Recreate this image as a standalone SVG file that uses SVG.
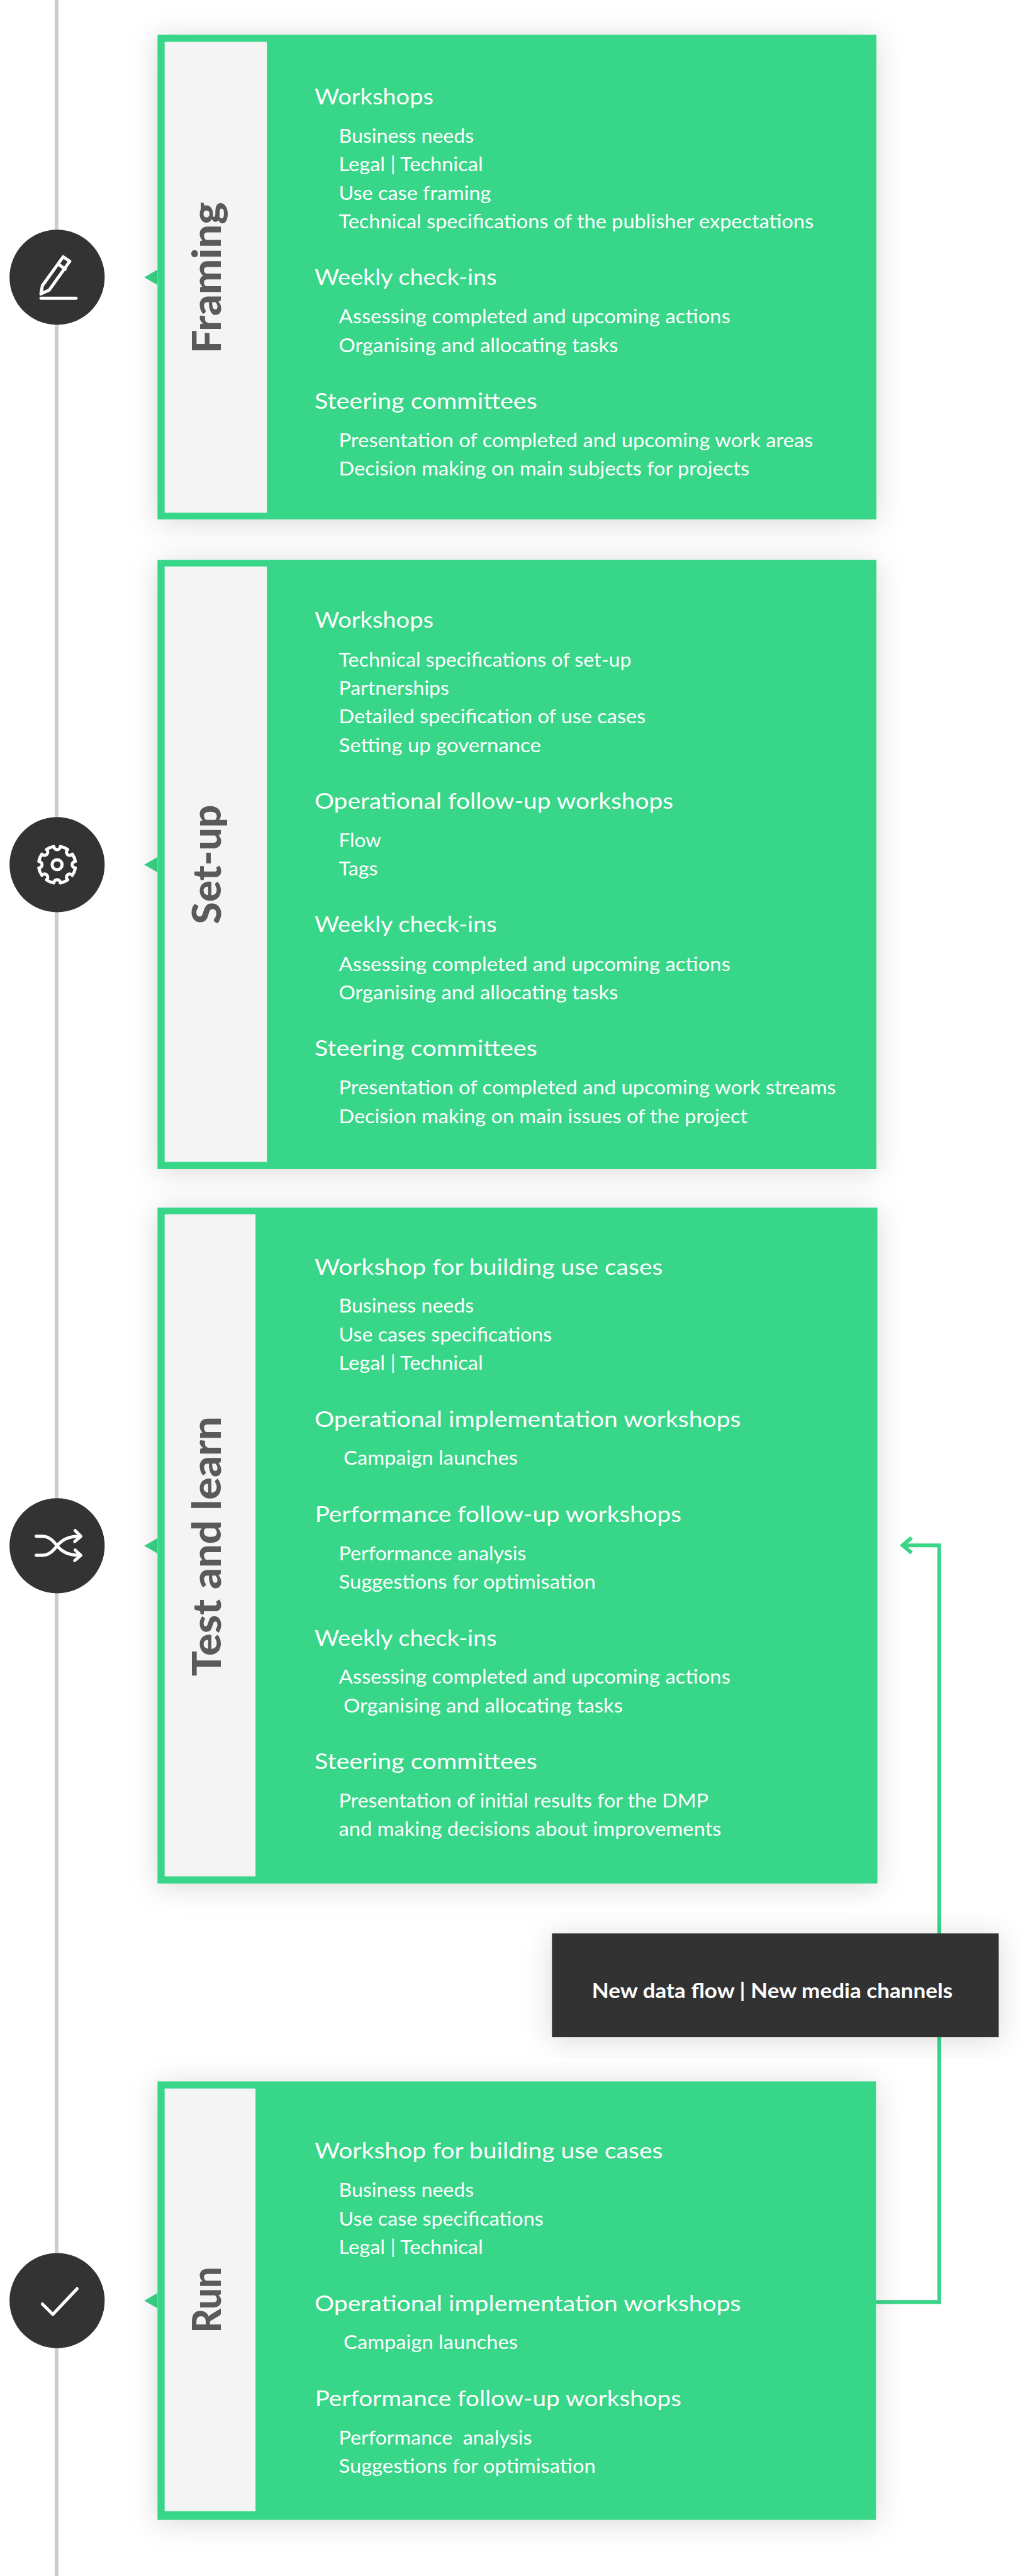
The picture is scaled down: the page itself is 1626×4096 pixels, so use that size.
<svg xmlns="http://www.w3.org/2000/svg" width="1626" height="4096" viewBox="0 0 1626 4096">
<style>
text{font-family:"Lato","Noto Sans",sans-serif}
.h{font-size:47px;fill:#fff;font-weight:400}
.i{font-size:42px;fill:#fff;font-weight:400}
.t{font-size:82px;fill:#5a5a5a;font-weight:900}
.g{fill:#39d688}
.side{fill:#f4f4f4}
.c{fill:#333}
.ic{fill:none;stroke:#fff;stroke-width:6.5;stroke-linecap:round;stroke-linejoin:round}
.tri{fill:#39d688}
</style>
<defs>
<filter id="sh" x="-20%" y="-20%" width="140%" height="140%"><feDropShadow dx="0" dy="6" stdDeviation="30" flood-color="#000" flood-opacity=".15"/></filter>
<marker id="open" markerUnits="userSpaceOnUse" markerWidth="40" markerHeight="50" refX="33" refY="25" orient="auto" viewBox="0 0 40 50"><path d="M16 9 35 25 16 41" fill="none" stroke="#39d688" stroke-width="8" stroke-linejoin="miter"/></marker>
</defs>
<rect width="1626" height="4096" fill="#fff"/>
<g transform="scale(0.75628)">
<rect id="timeline" x="115" y="0" width="8" height="5417" fill="#cecece"/>
<g id="connectors">
<path d="M1841 4840H1974V3249H1899" fill="none" stroke="#39d688" stroke-width="8" marker-end="url(#open)"/>
</g>
<g id="icon-framing"><circle class="c" cx="120" cy="583" r="100"/><path class="ic" d="M86 618 89 600.7 132.7 540 146.7 549.3 103.3 610ZM125 557 137 566M86 627H160"/></g>
<g id="icon-setup"><circle class="c" cx="120" cy="1818" r="100"/><g transform="translate(120 1818)"><circle class="ic" r="10.5"/><path class="ic" d="M38.4 6.8A39 39 0 0 1 31.9 22.4A6.8 6.8 0 1 0 22.4 31.9A39 39 0 0 1 6.8 38.4A6.8 6.8 0 1 0 -6.8 38.4A39 39 0 0 1 -22.4 31.9A6.8 6.8 0 1 0 -31.9 22.4A39 39 0 0 1 -38.4 6.8A6.8 6.8 0 1 0 -38.4 -6.8A39 39 0 0 1 -31.9 -22.4A6.8 6.8 0 1 0 -22.4 -31.9A39 39 0 0 1 -6.8 -38.4A6.8 6.8 0 1 0 6.8 -38.4A39 39 0 0 1 22.4 -31.9A6.8 6.8 0 1 0 31.9 -22.4A39 39 0 0 1 38.4 -6.8A6.8 6.8 0 1 0 38.4 6.8Z"/></g></g>
<g id="icon-test"><circle class="c" cx="120" cy="3250" r="100"/><path class="ic" d="M76 3230H88C104 3230 112 3240 120 3250C128 3260 140 3270 166 3270M76 3270H88C104 3270 112 3260 120 3250C128 3240 140 3230 166 3230M158 3218 170 3230 157 3241M158 3259 170 3270 157 3281"/></g>
<g id="icon-run"><circle class="c" cx="120" cy="4837" r="100"/><path class="ic" d="M89 4844 111 4866 162 4812"/></g>

<g id="framing">
<polygon class="tri" points="303,583 331,567 331,599"/>
<rect class="g" x="331" y="73" width="1511" height="1019" filter="url(#sh)"/>
<rect class="side" x="346" y="88" width="215" height="990"/>
<text class="t" transform="translate(464 743) rotate(-90)" textLength="318" lengthAdjust="spacingAndGlyphs">Framing</text>
<text class="h" x="661" y="219" textLength="250" lengthAdjust="spacingAndGlyphs">Workshops</text>
<text class="i" x="712" y="300" textLength="284" lengthAdjust="spacingAndGlyphs">Business needs</text>
<text class="i" x="712" y="360" textLength="303" lengthAdjust="spacingAndGlyphs">Legal | Technical</text>
<text class="i" x="712" y="420" textLength="320" lengthAdjust="spacingAndGlyphs">Use case framing</text>
<text class="i" x="712" y="480" textLength="998" lengthAdjust="spacingAndGlyphs">Technical specifications of the publisher expectations</text>
<text class="h" x="661" y="599" textLength="383" lengthAdjust="spacingAndGlyphs">Weekly check-ins</text>
<text class="i" x="712" y="680" textLength="823" lengthAdjust="spacingAndGlyphs">Assessing completed and upcoming actions</text>
<text class="i" x="712" y="740" textLength="587" lengthAdjust="spacingAndGlyphs">Organising and allocating tasks</text>
<text class="h" x="661" y="859" textLength="468" lengthAdjust="spacingAndGlyphs">Steering committees</text>
<text class="i" x="712" y="940" textLength="997" lengthAdjust="spacingAndGlyphs">Presentation of completed and upcoming work areas</text>
<text class="i" x="712" y="1000" textLength="863" lengthAdjust="spacingAndGlyphs">Decision making on main subjects for projects</text>
</g>

<g id="setup">
<polygon class="tri" points="303,1818 331,1802 331,1834"/>
<rect class="g" x="331" y="1177" width="1511" height="1281" filter="url(#sh)"/>
<rect class="side" x="346" y="1191" width="215" height="1252"/>
<text class="t" transform="translate(464 1943) rotate(-90)" textLength="251" lengthAdjust="spacingAndGlyphs">Set-up</text>
<text class="h" x="661" y="1319" textLength="250" lengthAdjust="spacingAndGlyphs">Workshops</text>
<text class="i" x="712" y="1401" textLength="615" lengthAdjust="spacingAndGlyphs">Technical specifications of set-up</text>
<text class="i" x="712" y="1461" textLength="232" lengthAdjust="spacingAndGlyphs">Partnerships</text>
<text class="i" x="712" y="1521" textLength="645" lengthAdjust="spacingAndGlyphs">Detailed specification of use cases</text>
<text class="i" x="712" y="1581" textLength="425" lengthAdjust="spacingAndGlyphs">Setting up governance</text>
<text class="h" x="661" y="1700" textLength="754" lengthAdjust="spacingAndGlyphs">Operational follow-up workshops</text>
<text class="i" x="712" y="1781" textLength="89" lengthAdjust="spacingAndGlyphs">Flow</text>
<text class="i" x="712" y="1841" textLength="82" lengthAdjust="spacingAndGlyphs">Tags</text>
<text class="h" x="661" y="1960" textLength="383" lengthAdjust="spacingAndGlyphs">Weekly check-ins</text>
<text class="i" x="712" y="2041" textLength="823" lengthAdjust="spacingAndGlyphs">Assessing completed and upcoming actions</text>
<text class="i" x="712" y="2101" textLength="587" lengthAdjust="spacingAndGlyphs">Organising and allocating tasks</text>
<text class="h" x="661" y="2220" textLength="468" lengthAdjust="spacingAndGlyphs">Steering committees</text>
<text class="i" x="712" y="2301" textLength="1045" lengthAdjust="spacingAndGlyphs">Presentation of completed and upcoming work streams</text>
<text class="i" x="712" y="2361" textLength="859" lengthAdjust="spacingAndGlyphs">Decision making on main issues of the project</text>
</g>

<g id="test-and-learn">
<polygon class="tri" points="303,3250 331,3234 331,3266"/>
<rect class="g" x="331" y="2539" width="1513" height="1421" filter="url(#sh)"/>
<rect class="side" x="346" y="2553" width="191" height="1392"/>
<text class="t" transform="translate(464 3524) rotate(-90)" textLength="546" lengthAdjust="spacingAndGlyphs">Test and learn</text>
<text class="h" x="661" y="2680" textLength="732" lengthAdjust="spacingAndGlyphs">Workshop for building use cases</text>
<text class="i" x="712" y="2760" textLength="284" lengthAdjust="spacingAndGlyphs">Business needs</text>
<text class="i" x="712" y="2820" textLength="448" lengthAdjust="spacingAndGlyphs">Use cases specifications</text>
<text class="i" x="712" y="2880" textLength="303" lengthAdjust="spacingAndGlyphs">Legal | Technical</text>
<text class="h" x="661" y="3000" textLength="896" lengthAdjust="spacingAndGlyphs">Operational implementation workshops</text>
<text class="i" x="722" y="3080" textLength="366" lengthAdjust="spacingAndGlyphs">Campaign launches</text>
<text class="h" x="662" y="3200" textLength="770" lengthAdjust="spacingAndGlyphs">Performance follow-up workshops</text>
<text class="i" x="712" y="3280" textLength="394" lengthAdjust="spacingAndGlyphs">Performance analysis</text>
<text class="i" x="712" y="3340" textLength="540" lengthAdjust="spacingAndGlyphs">Suggestions for optimisation</text>
<text class="h" x="661" y="3460" textLength="383" lengthAdjust="spacingAndGlyphs">Weekly check-ins</text>
<text class="i" x="712" y="3540" textLength="823" lengthAdjust="spacingAndGlyphs">Assessing completed and upcoming actions</text>
<text class="i" x="722" y="3600" textLength="587" lengthAdjust="spacingAndGlyphs">Organising and allocating tasks</text>
<text class="h" x="661" y="3720" textLength="468" lengthAdjust="spacingAndGlyphs">Steering committees</text>
<text class="i" x="712" y="3800" textLength="777" lengthAdjust="spacingAndGlyphs">Presentation of initial results for the DMP</text>
<text class="i" x="712" y="3860" textLength="804" lengthAdjust="spacingAndGlyphs">and making decisions about improvements</text>
</g>

<g id="new-data-flow">
<rect class="c" x="1160" y="4065" width="939" height="218" filter="url(#sh)"/>
<text x="1244" y="4201" font-size="44" font-weight="700" fill="#fff" textLength="758" lengthAdjust="spacingAndGlyphs">New data flow | New media channels</text>
</g>

<g id="run">
<polygon class="tri" points="303,4837 331,4821 331,4853"/>
<rect class="g" x="331" y="4376" width="1510" height="922" filter="url(#sh)"/>
<rect class="side" x="346" y="4391" width="191" height="889"/>
<text class="t" transform="translate(464 4905) rotate(-90)" textLength="139" lengthAdjust="spacingAndGlyphs">Run</text>
<text class="h" x="661" y="4538" textLength="732" lengthAdjust="spacingAndGlyphs">Workshop for building use cases</text>
<text class="i" x="712" y="4619" textLength="284" lengthAdjust="spacingAndGlyphs">Business needs</text>
<text class="i" x="712" y="4679" textLength="430" lengthAdjust="spacingAndGlyphs">Use case specifications</text>
<text class="i" x="712" y="4739" textLength="303" lengthAdjust="spacingAndGlyphs">Legal | Technical</text>
<text class="h" x="661" y="4859" textLength="896" lengthAdjust="spacingAndGlyphs">Operational implementation workshops</text>
<text class="i" x="722" y="4939" textLength="366" lengthAdjust="spacingAndGlyphs">Campaign launches</text>
<text class="h" x="662" y="5059" textLength="770" lengthAdjust="spacingAndGlyphs">Performance follow-up workshops</text>
<text class="i" x="712" y="5139" textLength="406" lengthAdjust="spacingAndGlyphs" xml:space="preserve">Performance  analysis</text>
<text class="i" x="712" y="5199" textLength="540" lengthAdjust="spacingAndGlyphs">Suggestions for optimisation</text>
</g>
</g>
</svg>
